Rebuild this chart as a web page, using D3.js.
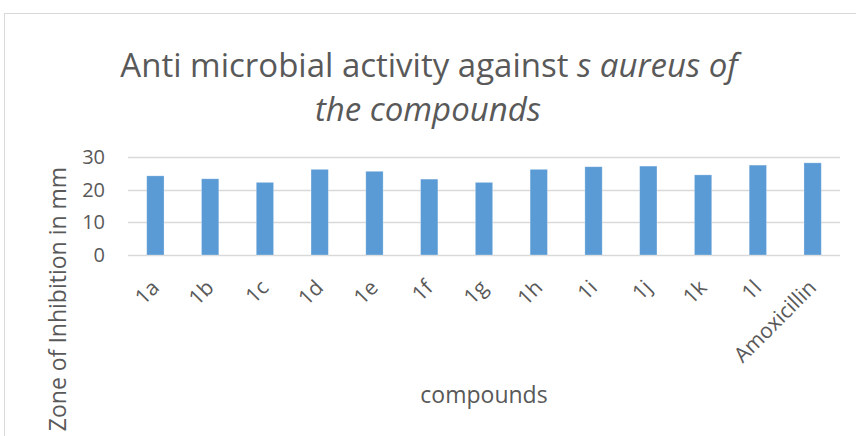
<!DOCTYPE html>
<html>
<head>
<meta charset="utf-8">
<script src="https://cdn.jsdelivr.net/npm/d3@7"></script>
<style>
  html, body { margin: 0; padding: 0; background: #fff; }
  svg { display: block; }
  svg text { font-family: "Open Sans", "Noto Sans", sans-serif; }
</style>
</head>
<body>
<svg id="chart" width="856" height="436"></svg>
<script>
// Zone of inhibition (mm) against S. aureus per compound
const compounds = ["1a", "1b", "1c", "1d", "1e", "1f", "1g", "1h", "1i", "1j", "1k", "1l", "Amoxicillin"];
const inhibition = [24.3, 23.4, 22.3, 26.3, 25.7, 23.3, 22.3, 26.3, 27.1, 27.3, 24.6, 27.6, 28.3];
const yTicks = [0, 10, 20, 30];

const svg = d3.select("#chart");
const textColor = "#595959";
const gridColor = "#D9D9D9";
const barColor = "#5B9BD5";
const fontFamily = '"Open Sans", "Noto Sans", sans-serif';

// chart frame
svg.append("rect")
  .attr("x", 4.5).attr("y", 13.5)
  .attr("width", 870).attr("height", 440)
  .attr("fill", "none").attr("stroke", gridColor).attr("stroke-width", 1);

const plot = { left: 128, right: 840, top: 157.3, bottom: 255 };

const x = d3.scaleBand()
  .domain(compounds)
  .range([plot.left, plot.right])
  .paddingInner(0.684)
  .paddingOuter(0.342);

const y = d3.scaleLinear()
  .domain([0, 30])
  .range([plot.bottom, plot.top]);

// horizontal gridlines
svg.append("g")
  .selectAll("line")
  .data(yTicks)
  .join("line")
  .attr("x1", plot.left).attr("x2", plot.right)
  .attr("y1", d => Math.round(y(d)) + 0.5)
  .attr("y2", d => Math.round(y(d)) + 0.5)
  .attr("stroke", gridColor).attr("stroke-width", 1.3);

// y axis tick labels
const yAxis = d3.axisLeft(y).tickValues(yTicks).tickSize(0).tickPadding(0);
const yG = svg.append("g")
  .attr("transform", `translate(105,0)`)
  .call(yAxis);
yG.attr("font-family", fontFamily);
yG.select(".domain").remove();
yG.selectAll("text")
  .attr("fill", textColor)
  .style("font-size", "20px");

// bars
svg.append("g")
  .selectAll("rect")
  .data(compounds)
  .join("rect")
  .attr("x", d => x(d))
  .attr("width", x.bandwidth())
  .attr("y", (d, i) => y(inhibition[i]))
  .attr("height", (d, i) => y(0) - y(inhibition[i]))
  .attr("fill", barColor)
  .attr("stroke", "#ffffff")
  .attr("stroke-opacity", 0.35)
  .attr("stroke-width", 0.75);

// category labels, rotated
const xAxis = d3.axisBottom(x).tickSize(0).tickPadding(0);
const xG = svg.append("g")
  .attr("transform", `translate(0,${plot.bottom})`)
  .call(xAxis);
xG.attr("font-family", fontFamily);
xG.select(".domain").remove();
xG.selectAll("text")
  .attr("fill", textColor)
  .style("font-size", "21px")
  .attr("text-anchor", "end")
  .attr("y", 0)
  .attr("dy", 0)
  .attr("transform", "translate(5,34) rotate(-45)");

// chart title (mixed upright / italic)
const title = svg.append("text")
  .attr("text-anchor", "middle")
  .attr("fill", textColor)
  .style("font-size", "33px");
title.append("tspan")
  .attr("x", 429).attr("y", 77)
  .text("Anti microbial activity against ");
title.append("tspan")
  .style("font-style", "italic")
  .text("s aureus of");
svg.append("text")
  .attr("x", 428).attr("y", 121)
  .attr("text-anchor", "middle")
  .attr("fill", textColor)
  .style("font-size", "33px")
  .style("font-style", "italic")
  .text("the compounds");

// axis titles
svg.append("text")
  .attr("x", 484).attr("y", 403)
  .attr("text-anchor", "middle")
  .attr("fill", textColor)
  .style("font-size", "23px")
  .text("compounds");

svg.append("text")
  .attr("transform", "translate(66,299) rotate(-90)")
  .attr("text-anchor", "middle")
  .attr("fill", textColor)
  .style("font-size", "23px")
  .text("Zone of Inhibition in mm");
</script>
</body>
</html>
